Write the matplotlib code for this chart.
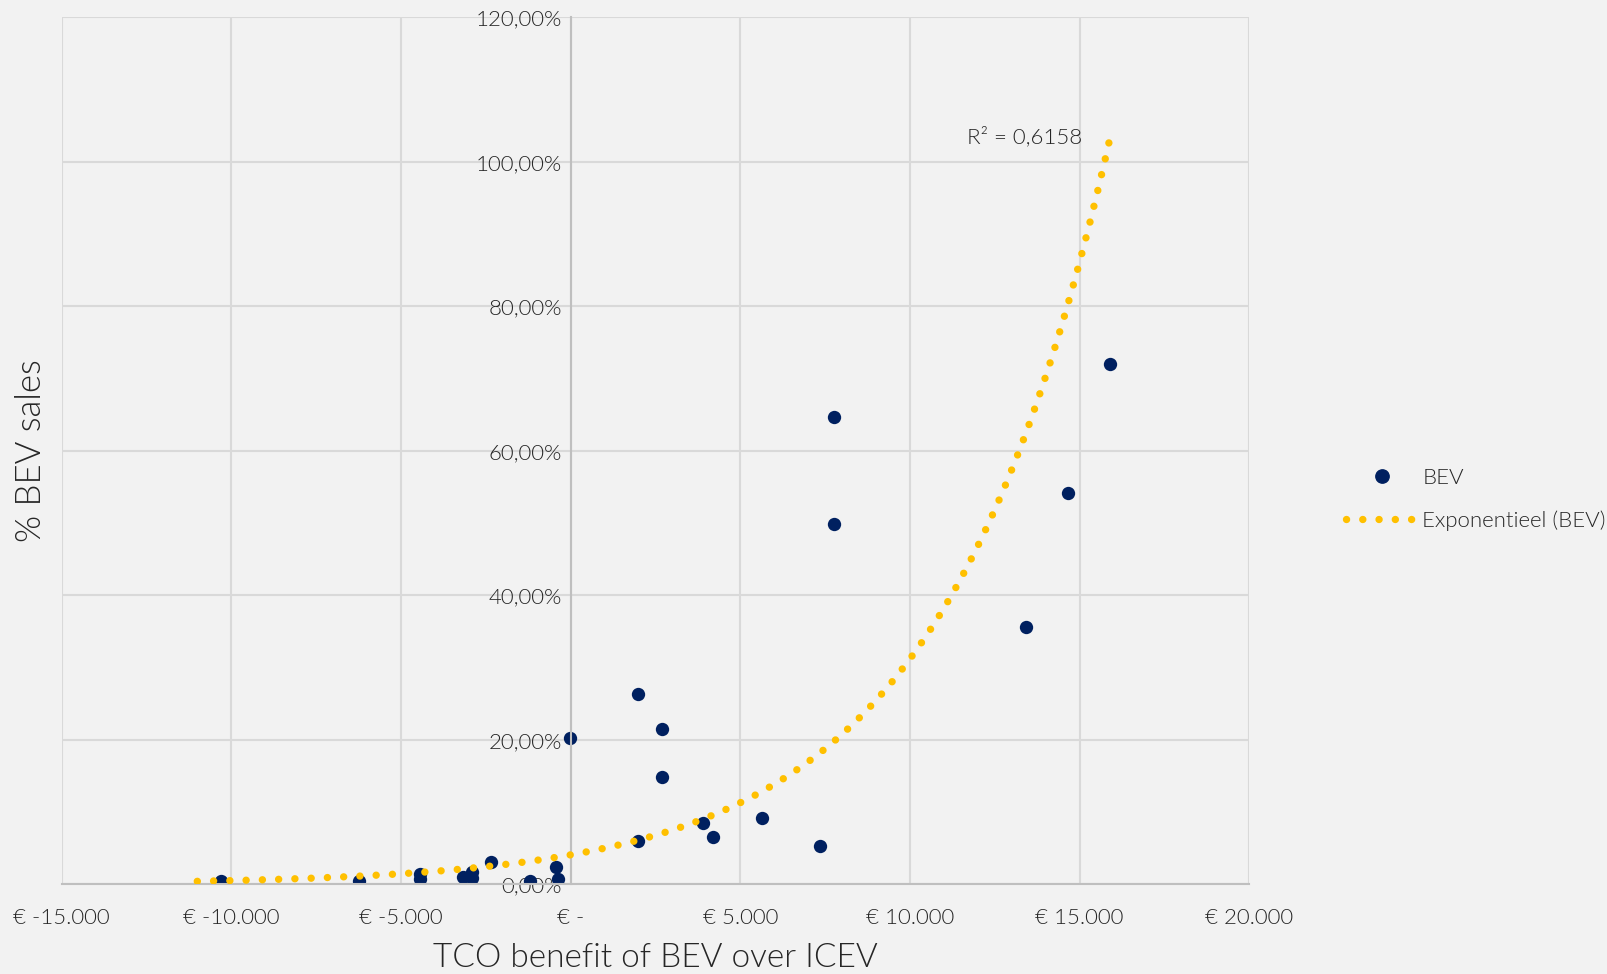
import numpy as np
import matplotlib.pyplot as plt
from matplotlib.lines import Line2D

# TCO benefit (EUR) and BEV share of sales
tco_benefit = [-10290, -6235, -4426, -4426, -3171, -2894, -2894, -2334, -1205, -439, -371,
               -20, 1986, 2705, 2705, 1986, 3913, 4208, 5640, 7361, 7761, 7761,
               13410, 14650, 15885]
bev_share = [0.0053, 0.0053, 0.0145, 0.0072, 0.0100, 0.0177, 0.0086, 0.0316, 0.0053, 0.0238, 0.0072,
             0.203, 0.2636, 0.2148, 0.1488, 0.0606, 0.0855, 0.0653, 0.0920, 0.0533, 0.647, 0.499,
             0.357, 0.542, 0.721]

x_ticks = [-15000, -10000, -5000, 0, 5000, 10000, 15000, 20000]
y_ticks = [0.0, 0.2, 0.4, 0.6, 0.8, 1.0, 1.2]

# exponential trendline y = a * exp(b * x)
trend_a = 0.041
trend_b = 2.03e-4
trend_range = [-11000, 15870]
r2_label = 'R² = 0,6158'

navy = '#002060'
gold = '#FFC000'
txt = '#262626'
bg = '#F2F2F2'
grid = '#D9D9D9'

plt.rcParams['font.family'] = ['Lato', 'DejaVu Sans']
plt.rcParams['font.weight'] = 300

fig = plt.figure(figsize=(16.07, 9.74), dpi=100, facecolor=bg)
ax = fig.add_axes([0.0383, 0.0919, 0.7391, 0.8902], facecolor=bg)

tx = np.linspace(trend_range[0], trend_range[1], 400)
ty = trend_a * np.exp(trend_b * tx)
ax.plot(tx, ty, color=gold, lw=5.3, linestyle=(0, (0.01, 2.2)),
        dash_capstyle='round', zorder=3)

ax.scatter(tco_benefit, bev_share, s=92, color=navy, zorder=2, linewidths=0)

ax.set_xlim(x_ticks[0], x_ticks[-1])
ax.set_ylim(y_ticks[0], y_ticks[-1])
ax.set_xticks(x_ticks)
ax.set_yticks(y_ticks)
ax.set_xticklabels(['€ -' if v == 0 else '€ ' + f'{v:,}'.replace(',', '.') for v in x_ticks])
ax.set_yticklabels([f'{v * 100:.2f}%'.replace('.', ',') for v in y_ticks])
ax.tick_params(axis='both', length=0, labelsize=16, labelcolor=txt)
ax.tick_params(axis='x', pad=17)
ax.tick_params(axis='y', pad=6)
ax.grid(True, color=grid, lw=1.5, zorder=0)
ax.set_axisbelow(True)

ax.spines['left'].set_position(('data', 0))
ax.spines['left'].set_color('#BFBFBF')
ax.spines['left'].set_linewidth(1.5)
ax.spines['bottom'].set_color('#BFBFBF')
ax.spines['bottom'].set_linewidth(1.5)
ax.spines['top'].set_visible(False)
ax.spines['right'].set_visible(False)

ax.text(13380, 1.035, r2_label, fontsize=16, color=txt, ha='center', va='center')

fig.text(0.408, 0.016, 'TCO benefit of BEV over ICEV', fontsize=24, color=txt, ha='center', va='center')
fig.text(0.019, 0.537, '% BEV sales', fontsize=25, color=txt, rotation=90, ha='center', va='center')

handles = [Line2D([], [], ls='none', marker='o', ms=9.6, color=navy),
           Line2D([], [], color=gold, lw=5.3, linestyle=(0, (0.01, 2.2)), dash_capstyle='round')]
leg = fig.legend(handles, ['BEV', 'Exponentieel (BEV)'], loc='center left',
                 bbox_to_anchor=(0.825, 0.487), frameon=False, fontsize=16,
                 handlelength=3.3, handletextpad=0.15, labelspacing=1.0, labelcolor=txt)

fig.savefig('out.png', dpi=100, facecolor=bg)
